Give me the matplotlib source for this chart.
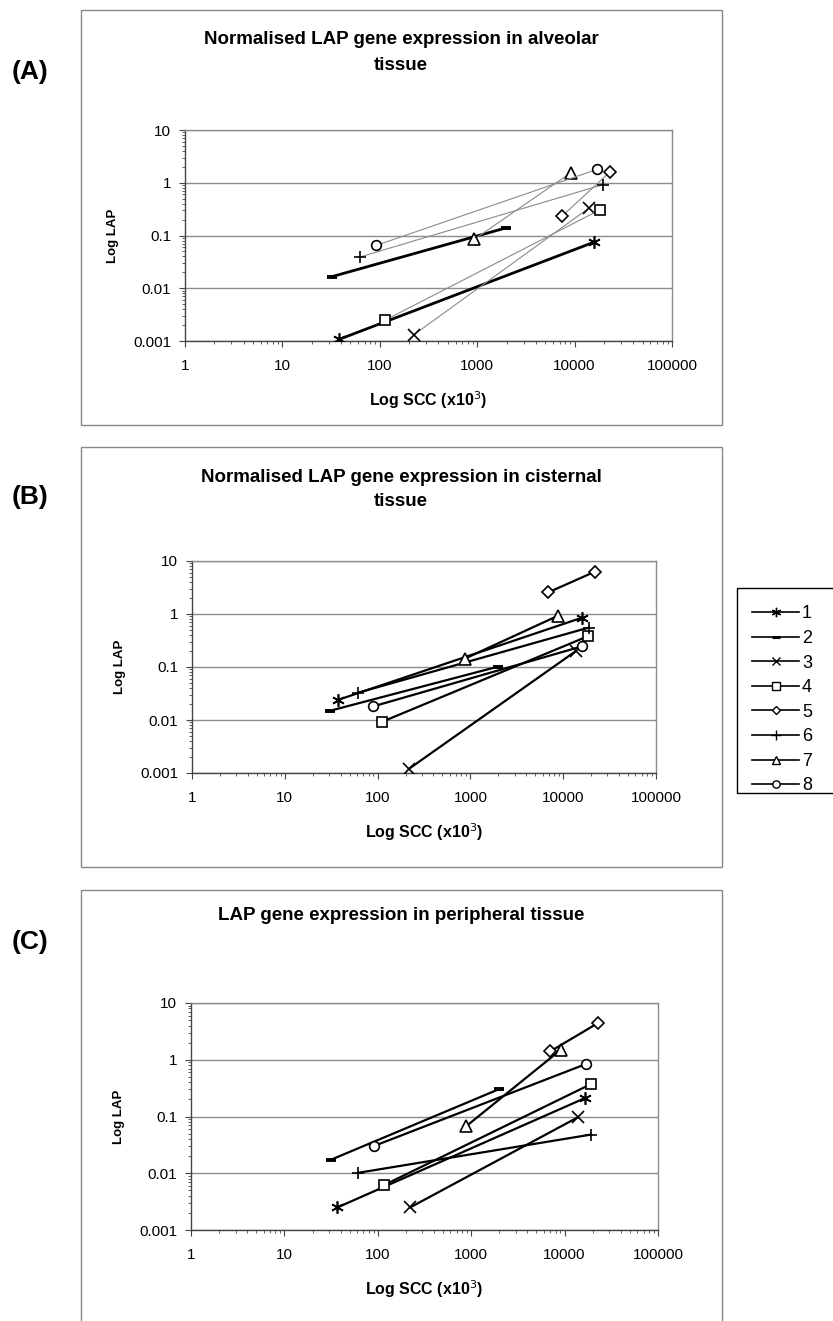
import numpy as np
import matplotlib
matplotlib.use("Agg")
import matplotlib.pyplot as plt
from matplotlib.patches import Rectangle
from matplotlib.lines import Line2D
from matplotlib.ticker import LogLocator, NullFormatter, FixedFormatter, FixedLocator

plt.rcParams['font.family'] = ['Liberation Sans', 'DejaVu Sans']

W, H = 833, 1321

# series 1..8, each one line from a low-SCC point to a high-SCC point
series_names = ['1', '2', '3', '4', '5', '6', '7', '8']

# (A) alveolar
a_x = [[38, 15900], [32.6, 1990], [222, 14000], [114, 18400],
       [7500, 23000], [62, 19500], [927, 9140], [92, 17100]]
a_y = [[0.00107, 0.075], [0.0167, 0.14], [0.0013, 0.33], [0.0025, 0.31],
       [0.236, 1.6], [0.039, 0.92], [0.084, 1.55], [0.065, 1.8]]

# (B) cisternal
b_x = [[37, 15900], [31, 2000], [218, 13700], [111, 18400],
       [6940, 22000], [61, 19000], [865, 8700], [89, 15900]]
b_y = [[0.0238, 0.85], [0.015, 0.102], [0.0012, 0.2], [0.0092, 0.38],
       [2.57, 6.3], [0.0326, 0.556], [0.143, 0.92], [0.018, 0.245]]

# (C) peripheral
c_x = [[37, 16400], [31.5, 2000], [222, 13900], [117, 19000],
       [7000, 22600], [62, 19200], [890, 9100], [90, 16900]]
c_y = [[0.0025, 0.21], [0.0173, 0.305], [0.0025, 0.097], [0.0062, 0.37],
       [1.4, 4.4], [0.0102, 0.048], [0.068, 1.5], [0.03, 0.84]]

y_ticks = [0.001, 0.01, 0.1, 1, 10]
y_labels = ['0.001', '0.01', '0.1', '1', '10']
x_ticks = [1, 10, 100, 1000, 10000, 100000]
x_labels = ['1', '10', '100', '1000', '10000', '100000']

markers = [(6, 2, 0), '_', 'x', 's', 'D', '+', '^', 'o']
msizes = [9, 7, 8, 7, 6, 9, 8, 7]

fig = plt.figure(figsize=(W / 100, H / 100), dpi=100)


def px_axes(x0, x1, y0, y1):
    return fig.add_axes([x0 / W, 1 - y1 / H, (x1 - x0) / W, (y1 - y0) / H])


def frame(x0, x1, y0, y1, col='#888888'):
    fig.add_artist(Rectangle((x0 / W, 1 - y1 / H), (x1 - x0) / W, (y1 - y0) / H,
                             transform=fig.transFigure, fill=False,
                             edgecolor=col, lw=1.0))


def draw_panel(ax, xs, ys, thin=None):
    for i in range(8):
        if thin is not None and i not in thin:
            col, lw = 'black', 2.0
        elif thin is not None:
            col, lw = '#8a8a8a', 0.8
        else:
            col, lw = 'black', 1.6
        mew = 2.8 if i == 1 else 1.2
        ax.plot(xs[i], ys[i], color=col, lw=lw, marker=markers[i], ms=msizes[i],
                mfc='white', mec='black', mew=mew, zorder=3)
    ax.set_xscale('log')
    ax.set_yscale('log')
    ax.set_xlim(1, 100000)
    ax.set_ylim(0.001, 10)
    ax.yaxis.set_major_locator(FixedLocator(y_ticks))
    ax.yaxis.set_major_formatter(FixedFormatter(y_labels))
    ax.xaxis.set_major_locator(FixedLocator(x_ticks))
    ax.xaxis.set_major_formatter(FixedFormatter(x_labels))
    ax.xaxis.set_minor_locator(LogLocator(base=10, subs=np.arange(2, 10)))
    ax.yaxis.set_minor_locator(LogLocator(base=10, subs=np.arange(2, 10)))
    ax.xaxis.set_minor_formatter(NullFormatter())
    ax.yaxis.set_minor_formatter(NullFormatter())
    ax.grid(True, which='major', axis='y', color='#8c8c8c', lw=1.0)
    ax.set_axisbelow(True)
    for s in ax.spines.values():
        s.set_color('#8c8c8c')
        s.set_linewidth(1.0)
    ax.spines['left'].set_color('#444444')
    ax.spines['bottom'].set_color('#444444')
    ax.tick_params(which='major', length=4, color='#444444', labelsize=11, pad=6)
    ax.tick_params(axis='x', which='major', pad=9)
    ax.tick_params(which='minor', length=2, color='#444444')
    ax.set_ylabel('Log LAP', fontsize=9.5, fontweight='bold', labelpad=10)
    ax.set_xlabel('Log SCC (x10$^3$)', fontsize=11.5, fontweight='bold', labelpad=12)


# frames
frame(81, 722, 10, 425)
frame(81, 722, 447, 867)
frame(81, 722, 890, 1340)

axA = px_axes(185, 672, 130, 341)
draw_panel(axA, a_x, a_y, thin=[2, 3, 4, 5, 6, 7])
axB = px_axes(192, 656, 561, 773)
draw_panel(axB, b_x, b_y)
axC = px_axes(191, 658, 1003, 1230)
draw_panel(axC, c_x, c_y)

tkw = dict(ha='center', va='center', fontsize=13.5, fontweight='bold')
fig.text(401 / W, 1 - 40 / H, 'Normalised LAP gene expression in alveolar', **tkw)
fig.text(401 / W, 1 - 65 / H, 'tissue', **tkw)
fig.text(401 / W, 1 - 477 / H, 'Normalised LAP gene expression in cisternal', **tkw)
fig.text(401 / W, 1 - 502 / H, 'tissue', **tkw)
fig.text(401 / W, 1 - 915 / H, 'LAP gene expression in peripheral tissue', **tkw)

pkw = dict(ha='center', va='center', fontsize=19, fontweight='bold')
fig.text(30 / W, 1 - 72 / H, '(A)', **pkw)
fig.text(30 / W, 1 - 497 / H, '(B)', **pkw)
fig.text(30 / W, 1 - 942 / H, '(C)', **pkw)

# legend box runs off the right edge like the source
frame(737, 845, 588, 793, col='black')
handles = [Line2D([], [], color='black', lw=1.2, marker=markers[i], ms=msizes[i] * 0.75,
                  mfc='white', mec='black', mew=(2.2 if i == 1 else 1.0))
           for i in range(8)]
leg = fig.legend(handles, series_names, loc='upper left',
                 bbox_to_anchor=(737 / W, 1 - 590 / H), fontsize=13,
                 frameon=False, handlelength=2.6, handletextpad=0.15,
                 labelspacing=0.42, borderpad=0.35)

fig.savefig('out.png', dpi=100)
